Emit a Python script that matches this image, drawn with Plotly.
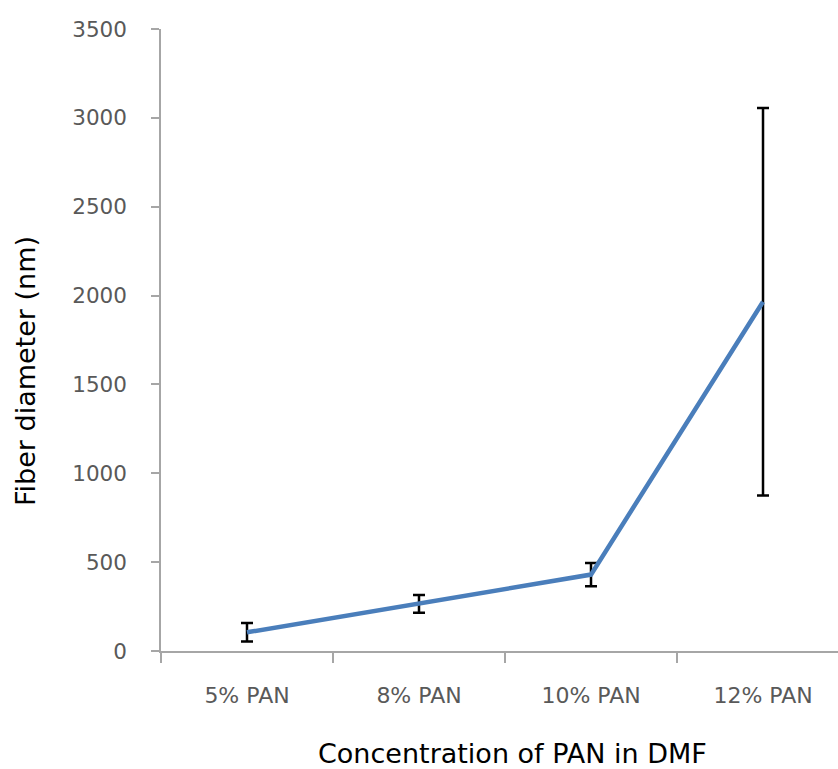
import plotly.graph_objects as go

# Electrospun fiber diameter vs PAN concentration
categories = ["5% PAN", "8% PAN", "10% PAN", "12% PAN"]
diameter_nm = [105, 265, 430, 1965]
diameter_sd = [52, 50, 65, 1090]
y_ticks = [0, 500, 1000, 1500, 2000, 2500, 3000, 3500]

FONT = "DejaVu Sans"
AXIS_GRAY = "#A6A6A6"
TEXT_GRAY = "#595959"

# plot area in pixels: x 161..838, y 29..651
PLOT_W, PLOT_H = 677, 622

fig = go.Figure()
fig.add_trace(go.Scatter(
    x=categories,
    y=diameter_nm,
    mode="lines",
    line=dict(color="#4A7EBB", width=4.5),
    error_y=dict(type="data", array=diameter_sd, visible=True,
                 color="black", thickness=2.5, width=6),
    showlegend=False,
))

fig.update_layout(
    width=838, height=769,
    margin=dict(l=161, r=0, t=29, b=118),
    paper_bgcolor="white", plot_bgcolor="white",
    font=dict(family=FONT, color=TEXT_GRAY),
    xaxis=dict(
        type="category", range=[-0.5, 3.436],
        showline=True, linecolor=AXIS_GRAY, linewidth=1.5,
        ticks="outside", tickson="boundaries", ticklen=10,
        tickcolor=AXIS_GRAY, tickwidth=1.5,
        showgrid=False, zeroline=False,
        tickfont=dict(size=22, color=TEXT_GRAY),
        ticklabelstandoff=24,
    ),
    yaxis=dict(
        range=[0, 3500], tickvals=y_ticks,
        showline=True, linecolor=AXIS_GRAY, linewidth=1.5,
        ticks="outside", ticklen=8, tickcolor=AXIS_GRAY, tickwidth=1.5,
        showgrid=False, zeroline=False,
        tickfont=dict(size=21.5, color=TEXT_GRAY),
        ticklabelstandoff=20,
    ),
    annotations=[
        dict(text="Fiber diameter (nm)", xref="paper", yref="paper",
             x=(25 - 161) / PLOT_W, y=(651 - 371) / PLOT_H, textangle=-90,
             showarrow=False, xanchor="center", yanchor="middle",
             font=dict(size=27, color="black", family=FONT)),
        dict(text="Concentration of PAN in DMF", xref="paper", yref="paper",
             x=(512 - 161) / PLOT_W, y=(651 - 753) / PLOT_H,
             showarrow=False, xanchor="center", yanchor="middle",
             font=dict(size=27, color="black", family=FONT)),
    ],
)

fig.write_html("out.html")
